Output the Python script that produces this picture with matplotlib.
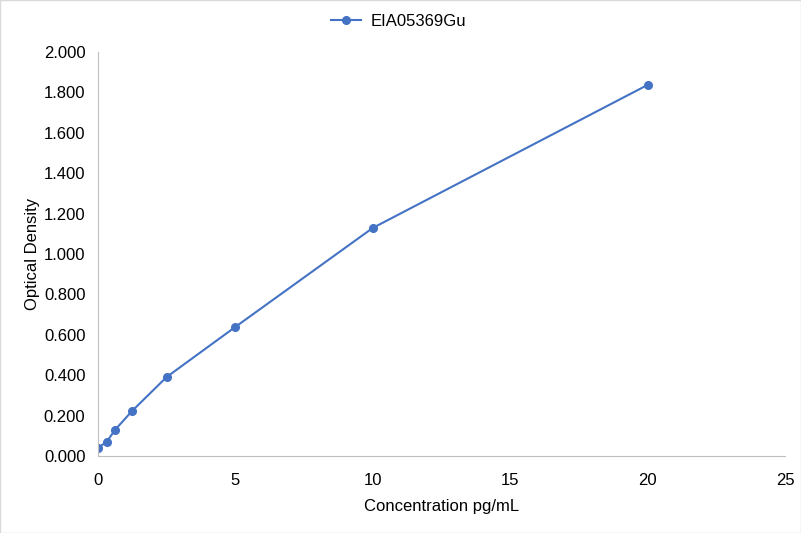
import matplotlib
matplotlib.use("Agg")
import matplotlib.pyplot as plt
from matplotlib.ticker import FuncFormatter, MultipleLocator
from matplotlib.patches import Rectangle

plt.rcParams['font.family'] = ['Liberation Sans', 'DejaVu Sans']

concentration = [0, 0.3125, 0.625, 1.25, 2.5, 5, 10, 20]
optical_density = [0.041, 0.069, 0.130, 0.224, 0.391, 0.639, 1.129, 1.837]
series_name = "EIA05369Gu"

fig = plt.figure(figsize=(8.01, 5.33), dpi=100)
ax = fig.add_axes([0.1223, 0.1445, 0.8577, 0.7579])
color = '#4472C4'
ax.plot(concentration, optical_density, color=color, lw=1.5, marker='o', ms=5.5, label=series_name)

ax.set_xlim(0, 25)
ax.set_ylim(0, 2.0)
ax.xaxis.set_major_locator(MultipleLocator(5))
ax.yaxis.set_major_locator(MultipleLocator(0.2))
ax.yaxis.set_major_formatter(FuncFormatter(lambda v, p: f"{v:.3f}"))
for s in ['top', 'right']:
    ax.spines[s].set_visible(False)
for s in ['left', 'bottom']:
    ax.spines[s].set_color('#BFBFBF')
ax.tick_params(axis='both', length=0, labelsize=12, colors='#000000')
ax.tick_params(axis='x', pad=12)
ax.tick_params(axis='y', pad=9)
ax.set_xlabel("Concentration pg/mL", fontsize=12, labelpad=8)
ax.set_ylabel("Optical Density", fontsize=12, labelpad=3)
ax.legend(loc='upper center', bbox_to_anchor=(0.438, 1.11),
          frameon=False, fontsize=12, handlelength=1.8, handletextpad=0.6, borderaxespad=0)

fig.patches.append(Rectangle((0.0006, 0.0009), 0.9988, 0.9982, transform=fig.transFigure,
                             fill=False, edgecolor='#D9D9D9', lw=1))
fig.savefig("out.png", dpi=100)
